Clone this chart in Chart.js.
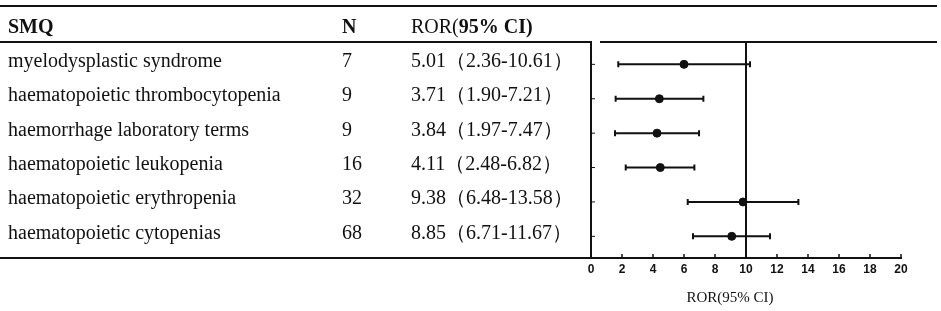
<!DOCTYPE html>
<html>
<head>
<meta charset="utf-8">
<script src="https://cdn.jsdelivr.net/npm/chart.js@4.4.1/dist/chart.umd.min.js"></script>
<style>
  html, body { margin: 0; padding: 0; background: #fff; }
  #wrap { width: 941px; height: 311px; }
</style>
</head>
<body>
<div id="wrap"><canvas id="myChart"></canvas></div>
<script>
// table columns
var smq = [
  'myelodysplastic syndrome',
  'haematopoietic thrombocytopenia',
  'haemorrhage laboratory terms',
  'haematopoietic leukopenia',
  'haematopoietic erythropenia',
  'haematopoietic cytopenias'
];
var counts = [7, 9, 9, 16, 32, 68];
var rorText = [
  '5.01（2.36-10.61）',
  '3.71（1.90-7.21）',
  '3.84（1.97-7.47）',
  '4.11（2.48-6.82）',
  '9.38（6.48-13.58）',
  '8.85（6.71-11.67）'
];

// plotted values
var rorPoint = [6.0, 4.41, 4.26, 4.47, 9.81, 9.08];
var ciLow = [1.76, 1.59, 1.55, 2.24, 6.24, 6.58];
var ciHigh = [10.26, 7.25, 6.97, 6.67, 13.38, 11.55];
var refLine = 10;

var ink = '#111';
var serif = '"Liberation Serif", "Times New Roman", serif';

var forestTable = {
  id: 'forestTable',
  beforeDatasetsDraw: function(chart) {
    var c = chart.ctx, x = chart.scales.x, y = chart.scales.y, a = chart.chartArea;
    c.save();
    c.strokeStyle = ink;
    // reference line
    c.lineWidth = 2;
    c.beginPath();
    c.moveTo(x.getPixelForValue(refLine), a.top);
    c.lineTo(x.getPixelForValue(refLine), a.bottom);
    c.stroke();
    // whiskers
    for (var i = 0; i < rorPoint.length; i++) {
      var py = y.getPixelForValue(i + 1);
      var x1 = x.getPixelForValue(ciLow[i]), x2 = x.getPixelForValue(ciHigh[i]);
      c.lineWidth = 2;
      c.beginPath();
      c.moveTo(x1, py); c.lineTo(x2, py);
      c.moveTo(x1, py - 3); c.lineTo(x1, py + 3);
      c.moveTo(x2, py - 3); c.lineTo(x2, py + 3);
      c.stroke();
      // small y ticks
      c.lineWidth = 1;
      c.beginPath();
      c.moveTo(a.left, py); c.lineTo(a.left + 4, py);
      c.stroke();
    }
    // x tick marks pointing up
    c.lineWidth = 1.5;
    x.ticks.forEach(function(t) {
      var px = x.getPixelForValue(t.value);
      c.beginPath();
      c.moveTo(px, a.bottom); c.lineTo(px, a.bottom - 4);
      c.stroke();
    });
    c.restore();
  },
  afterDraw: function(chart) {
    var c = chart.ctx, y = chart.scales.y, a = chart.chartArea;
    c.save();
    c.strokeStyle = ink;
    c.lineWidth = 2;
    c.beginPath();
    c.moveTo(0, 6); c.lineTo(937, 6);
    c.moveTo(0, a.top); c.lineTo(590, a.top);
    c.moveTo(600, a.top); c.lineTo(937, a.top);
    c.moveTo(0, a.bottom); c.lineTo(a.left + 9, a.bottom);
    c.stroke();

    c.fillStyle = ink;
    c.textBaseline = 'alphabetic';
    c.textAlign = 'left';
    // header
    c.font = 'bold 20px ' + serif;
    c.fillText('SMQ', 8, 33);
    c.fillText('N', 342, 33);
    c.font = '20px ' + serif;
    c.fillText('ROR(', 411, 33);
    var w = c.measureText('ROR(').width;
    c.font = 'bold 20px ' + serif;
    c.fillText('95% CI)', 411 + w, 33);

    c.font = '20px ' + serif;
    for (var i = 0; i < smq.length; i++) {
      var py = y.getPixelForValue(i + 1) + 2.5;
      c.fillText(smq[i], 8, py);
      c.fillText(String(counts[i]), 342, py);
      c.fillText(rorText[i], 411, py);
    }

    // axis title
    c.font = '15px ' + serif;
    c.textAlign = 'center';
    c.textBaseline = 'middle';
    c.fillText('ROR(95% CI)', (a.left + a.right) / 2 - 16, 298);
    c.restore();
  }
};

var ctx = document.getElementById('myChart').getContext('2d');
var myChart = new Chart(ctx, {
  type: 'scatter',
  data: {
    datasets: [{
      data: rorPoint.map(function(v, i) { return {x: v, y: i + 1}; }),
      backgroundColor: ink,
      borderColor: ink,
      pointRadius: 4,
      pointHoverRadius: 4
    }]
  },
  options: {
    responsive: true,
    maintainAspectRatio: false,
    animation: false,
    layout: { padding: { left: 591, right: 40, top: 42, bottom: 0 } },
    plugins: {
      legend: { display: false },
      tooltip: { enabled: false }
    },
    scales: {
      x: {
        type: 'linear',
        min: 0,
        max: 20,
        ticks: {
          stepSize: 2,
          color: ink,
          padding: -4,
          font: { family: '"Liberation Sans", Arial, sans-serif', size: 12, weight: 'bold' }
        },
        grid: { display: false },
        border: { display: true, color: ink, width: 2 },
        afterFit: function(s) { s.height = 53; }
      },
      y: {
        type: 'linear',
        reverse: true,
        min: 0.35,
        max: 6.63,
        ticks: { display: false },
        grid: { display: false },
        border: { display: true, color: ink, width: 2 },
        afterFit: function(s) { s.width = 0; }
      }
    }
  },
  plugins: [forestTable]
});
</script>
</body>
</html>
